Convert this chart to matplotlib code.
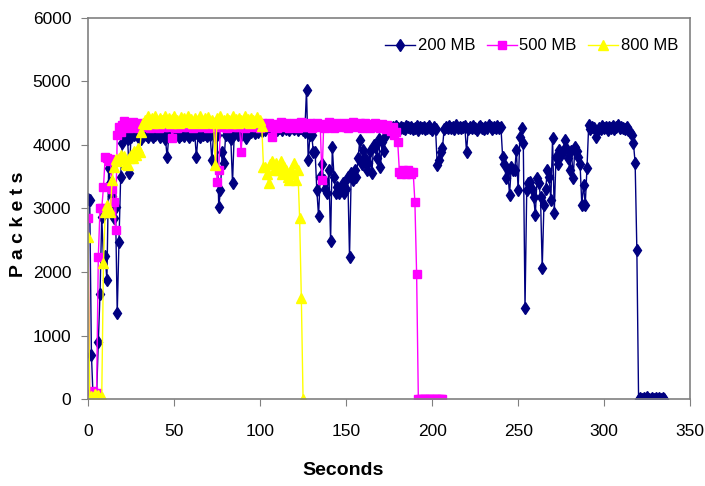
import numpy as np
import matplotlib
matplotlib.use("Agg")
from matplotlib import pyplot as plt

# packets per second, one value per second starting at t = 0
pk200 = [
    3150, 3130, 700, 0, 30, 60, 900, 1660, 2870, 2200,
    2250, 1870, 3630, 3400, 3190, 2850, 3020, 1350, 2470, 3500,
    4030, 4120, 4150, 4100, 3560, 4130, 4180, 4150, 4200, 4120,
    4160, 4100, 4140, 4200, 4150, 4130, 4180, 4160, 4120, 4150,
    4200, 4170, 4130, 4150, 4190, 4100, 3810, 4150, 4200, 4170,
    4140, 4160, 4190, 4120, 4150, 4180, 4140, 4200, 4160, 4130,
    4170, 4150, 4190, 3810, 4160, 4130, 4200, 4150, 4170, 4140,
    4190, 4150, 3760, 4180, 4120, 4160, 3020, 3290, 3890, 3720,
    4150, 4200, 4170, 4100, 3400, 4180, 4220, 4150, 4190, 4160,
    4200, 4230, 4110, 4180, 4220, 4200, 4250, 4190, 4230, 4210,
    4250, 4220, 4260, 4240, 4280, 4250, 4230, 4270, 4250, 4290,
    4240, 4270, 4260, 4230, 4280, 4250, 4270, 4240, 4290, 4260,
    4250, 4280, 4240, 4270, 4260, 4230, 4200,
    4870, 3760, 4160, 4160, 3890, 3890, 3290, 2880, 3500, 3700,
    3450, 3300, 3240, 3600, 2490, 3970, 3500, 3240, 3340, 3250,
    3300, 3400, 3250, 3300, 3500, 2240, 3560, 3450, 3600, 3500,
    3800, 4080, 3700, 3920, 3800, 3600, 3720, 3900, 3560, 4000,
    3970, 3800, 4100, 3650, 4050, 3900, 4150, 4200, 4250, 4230,
    4280, 4250, 4300, 4260, 4240, 4290, 4270, 4250, 4300, 4280,
    4260, 4290, 4250, 4270, 4300, 4240, 4280, 4260, 4290, 4250,
    4270, 4300, 4260, 4240, 4280, 4250, 3680, 3760, 3890, 3950,
    4250, 4290, 4270, 4300, 4260, 4280, 4250, 4310, 4270, 4290,
    4260, 4280, 4300, 3890, 4250, 4290, 4270, 4300, 4260, 4240,
    4280, 4300, 4270, 4250, 4290, 4260, 4310, 4280, 4250, 4290,
    4270, 4300, 4260, 4280, 3810, 3700, 3480, 3600, 3210, 3650,
    3600, 3600, 3920, 3290, 4130, 4270, 4030, 1430, 3290, 3400,
    3420, 3300, 3180, 2900, 3480, 3400, 3180, 2060, 3060, 3300,
    3600, 3500, 3130, 4110, 2930, 3810, 3700, 3920, 3850, 3900,
    4080, 3950, 3800, 3600, 3900, 3480, 3970, 3900, 3810, 3700,
    3060, 3370, 3060, 3630, 4310, 4250, 4280, 4260, 4130, 4220,
    4270, 4250, 4300, 4260, 4280, 4240, 4290, 4270, 4300, 4250,
    4280, 4310, 4260, 4290, 4270, 4250, 4290, 4240, 4200, 4150,
    4030, 3720, 2350, 0, 20, 0, 10, 0, 30, 0,
    0, 20, 0, 10, 0, 20, 0, 10, 0,
]

pk500 = [
    2850, 0, 80, 120, 60, 100, 2240, 3010, 3000, 3340,
    3810, 3800, 3750, 3780, 3300, 3100, 2660, 4160, 4290, 4200,
    4320, 4370, 4300, 4350, 4270, 4320, 4360, 4290, 4330, 4270,
    4310, 4350, 4280, 4330, 4300, 4360, 4270, 4320, 4340, 4290,
    4330, 4270, 4310, 4350, 4290, 4320, 4360, 4280, 4310, 4110,
    4300, 4340, 4270, 4320, 4360, 4290, 4310, 4350, 4280, 4320,
    4340, 4270, 4310, 4360, 4290, 4330, 4280, 4320, 4350, 4300,
    4270, 4330, 4310, 4360, 4290, 3420, 3600, 4320, 4280, 4340,
    4300, 4270, 4330, 4310, 4350, 4280, 4320, 4290, 4340, 3890,
    4310, 4270, 4330, 4300, 4360, 4280, 4320, 4350, 4290, 4310,
    4270, 4340, 4300, 4330, 4280, 4350, 4310, 4130, 4290, 4330,
    4270, 4320, 4360, 4300, 4280, 4340, 4310, 4270, 4330, 4290,
    4350, 4310, 4270, 4320, 4360, 4290, 4330, 4280, 4310, 4350,
    4270, 4320, 4300, 4340, 4280, 4310, 3450, 4330, 4270, 4320,
    4360, 4290, 4310, 4270, 4340, 4300, 4330, 4280, 4320, 4350,
    4290, 4270, 4330, 4310, 4360, 4280, 4320, 4300, 4340, 4270,
    4310, 4350, 4290, 4330, 4270, 4320, 4300, 4340, 4280, 4310,
    4270, 4330, 4300, 4250, 4320, 4270, 4220, 4290, 4160, 4200,
    4050, 3580, 3550, 3600, 3570, 3540, 3600, 3580, 3550, 3570,
    3100, 1970, 0, 0, 0, 0, 0, 0, 0, 0,
    0, 0, 0, 0, 0, 0, 0,
]

pk800 = [
    2550, 0, 50, 30, 80, 40, 60, 20, 30, 2140,
    2950, 3050, 3000, 2950, 3450, 3650, 3780, 3750, 3800, 3850,
    3780, 3820, 3700, 3680, 3800, 3850, 3800, 3900, 3850, 3950,
    3890, 4200, 4350, 4400, 4330, 4450, 4380, 4420, 4350, 4460,
    4390, 4340, 4430, 4400, 4360, 4450, 4380, 4420, 4340, 4410,
    4460, 4370, 4400, 4350, 4440, 4390, 4420, 4360, 4450, 4380,
    4410, 4340, 4430, 4400, 4370, 4460, 4390, 4350, 4420, 4380,
    4440, 4360, 4400, 4350, 3690, 4420, 4380, 4450, 4340, 4400,
    4370, 4430, 4390, 4350, 4460, 4380, 4410, 4340, 4420, 4400,
    4360, 4450, 4380, 4410, 4350, 4430, 4390, 4370, 4440, 4360,
    4400, 4300, 3650, 3650, 3550, 3400, 3700, 3750, 3600, 3720,
    3650, 3600, 3750, 3550, 3650, 3600, 3500, 3450, 3600, 3550,
    3720, 3450, 3600, 2850, 1590, 0,
]

labels = ["200 MB", "500 MB", "800 MB"]
xticks = [0, 50, 100, 150, 200, 250, 300, 350]
yticks = [0, 1000, 2000, 3000, 4000, 5000, 6000]

plt.rcParams["font.family"] = ["Liberation Sans", "DejaVu Sans"]

fig = plt.figure(figsize=(7.05, 4.86), dpi=100)
ax = fig.add_axes([0.1248, 0.179, 0.8542, 0.784])

ax.plot(np.arange(len(pk200)), pk200, color="#000080", lw=1.0,
        marker="d", ms=6.5, mec="#000080", mfc="#000080", label=labels[0])
ax.plot(np.arange(len(pk500)), pk500, color="#FF00FF", lw=1.0,
        marker="s", ms=6, mec="#FF00FF", mfc="#FF00FF", label=labels[1])
ax.plot(np.arange(len(pk800)), pk800, color="#FFFF00", lw=1.0,
        marker="^", ms=7, mec="#FFFF00", mfc="#FFFF00", label=labels[2])

ax.set_xlim(0, 350)
ax.set_ylim(0, 6000)
ax.set_xticks(xticks)
ax.set_yticks(yticks)
ax.tick_params(labelsize=12.5, length=5, color="#808080")
ax.tick_params(axis="x", pad=13)
ax.tick_params(axis="y", pad=7)
for s in ax.spines.values():
    s.set_color("#808080")
    s.set_linewidth(1.2)

fig.text(343 / 705, 1 - 470 / 486, "Seconds", fontsize=14, fontweight="bold",
         ha="center", va="center")
fig.text(19 / 705, 1 - 224 / 486, "P a c k e t s", fontsize=14,
         fontweight="bold", rotation=90, ha="center", va="center")

ax.legend(loc="center left", bbox_to_anchor=(385 / 705, 1 - 46 / 486),
          bbox_transform=fig.transFigure, ncol=3, frameon=False,
          fontsize=12, handlelength=1.8, handletextpad=0.15,
          columnspacing=0.7, borderpad=0, borderaxespad=0)

fig.savefig("out.png", dpi=100)
